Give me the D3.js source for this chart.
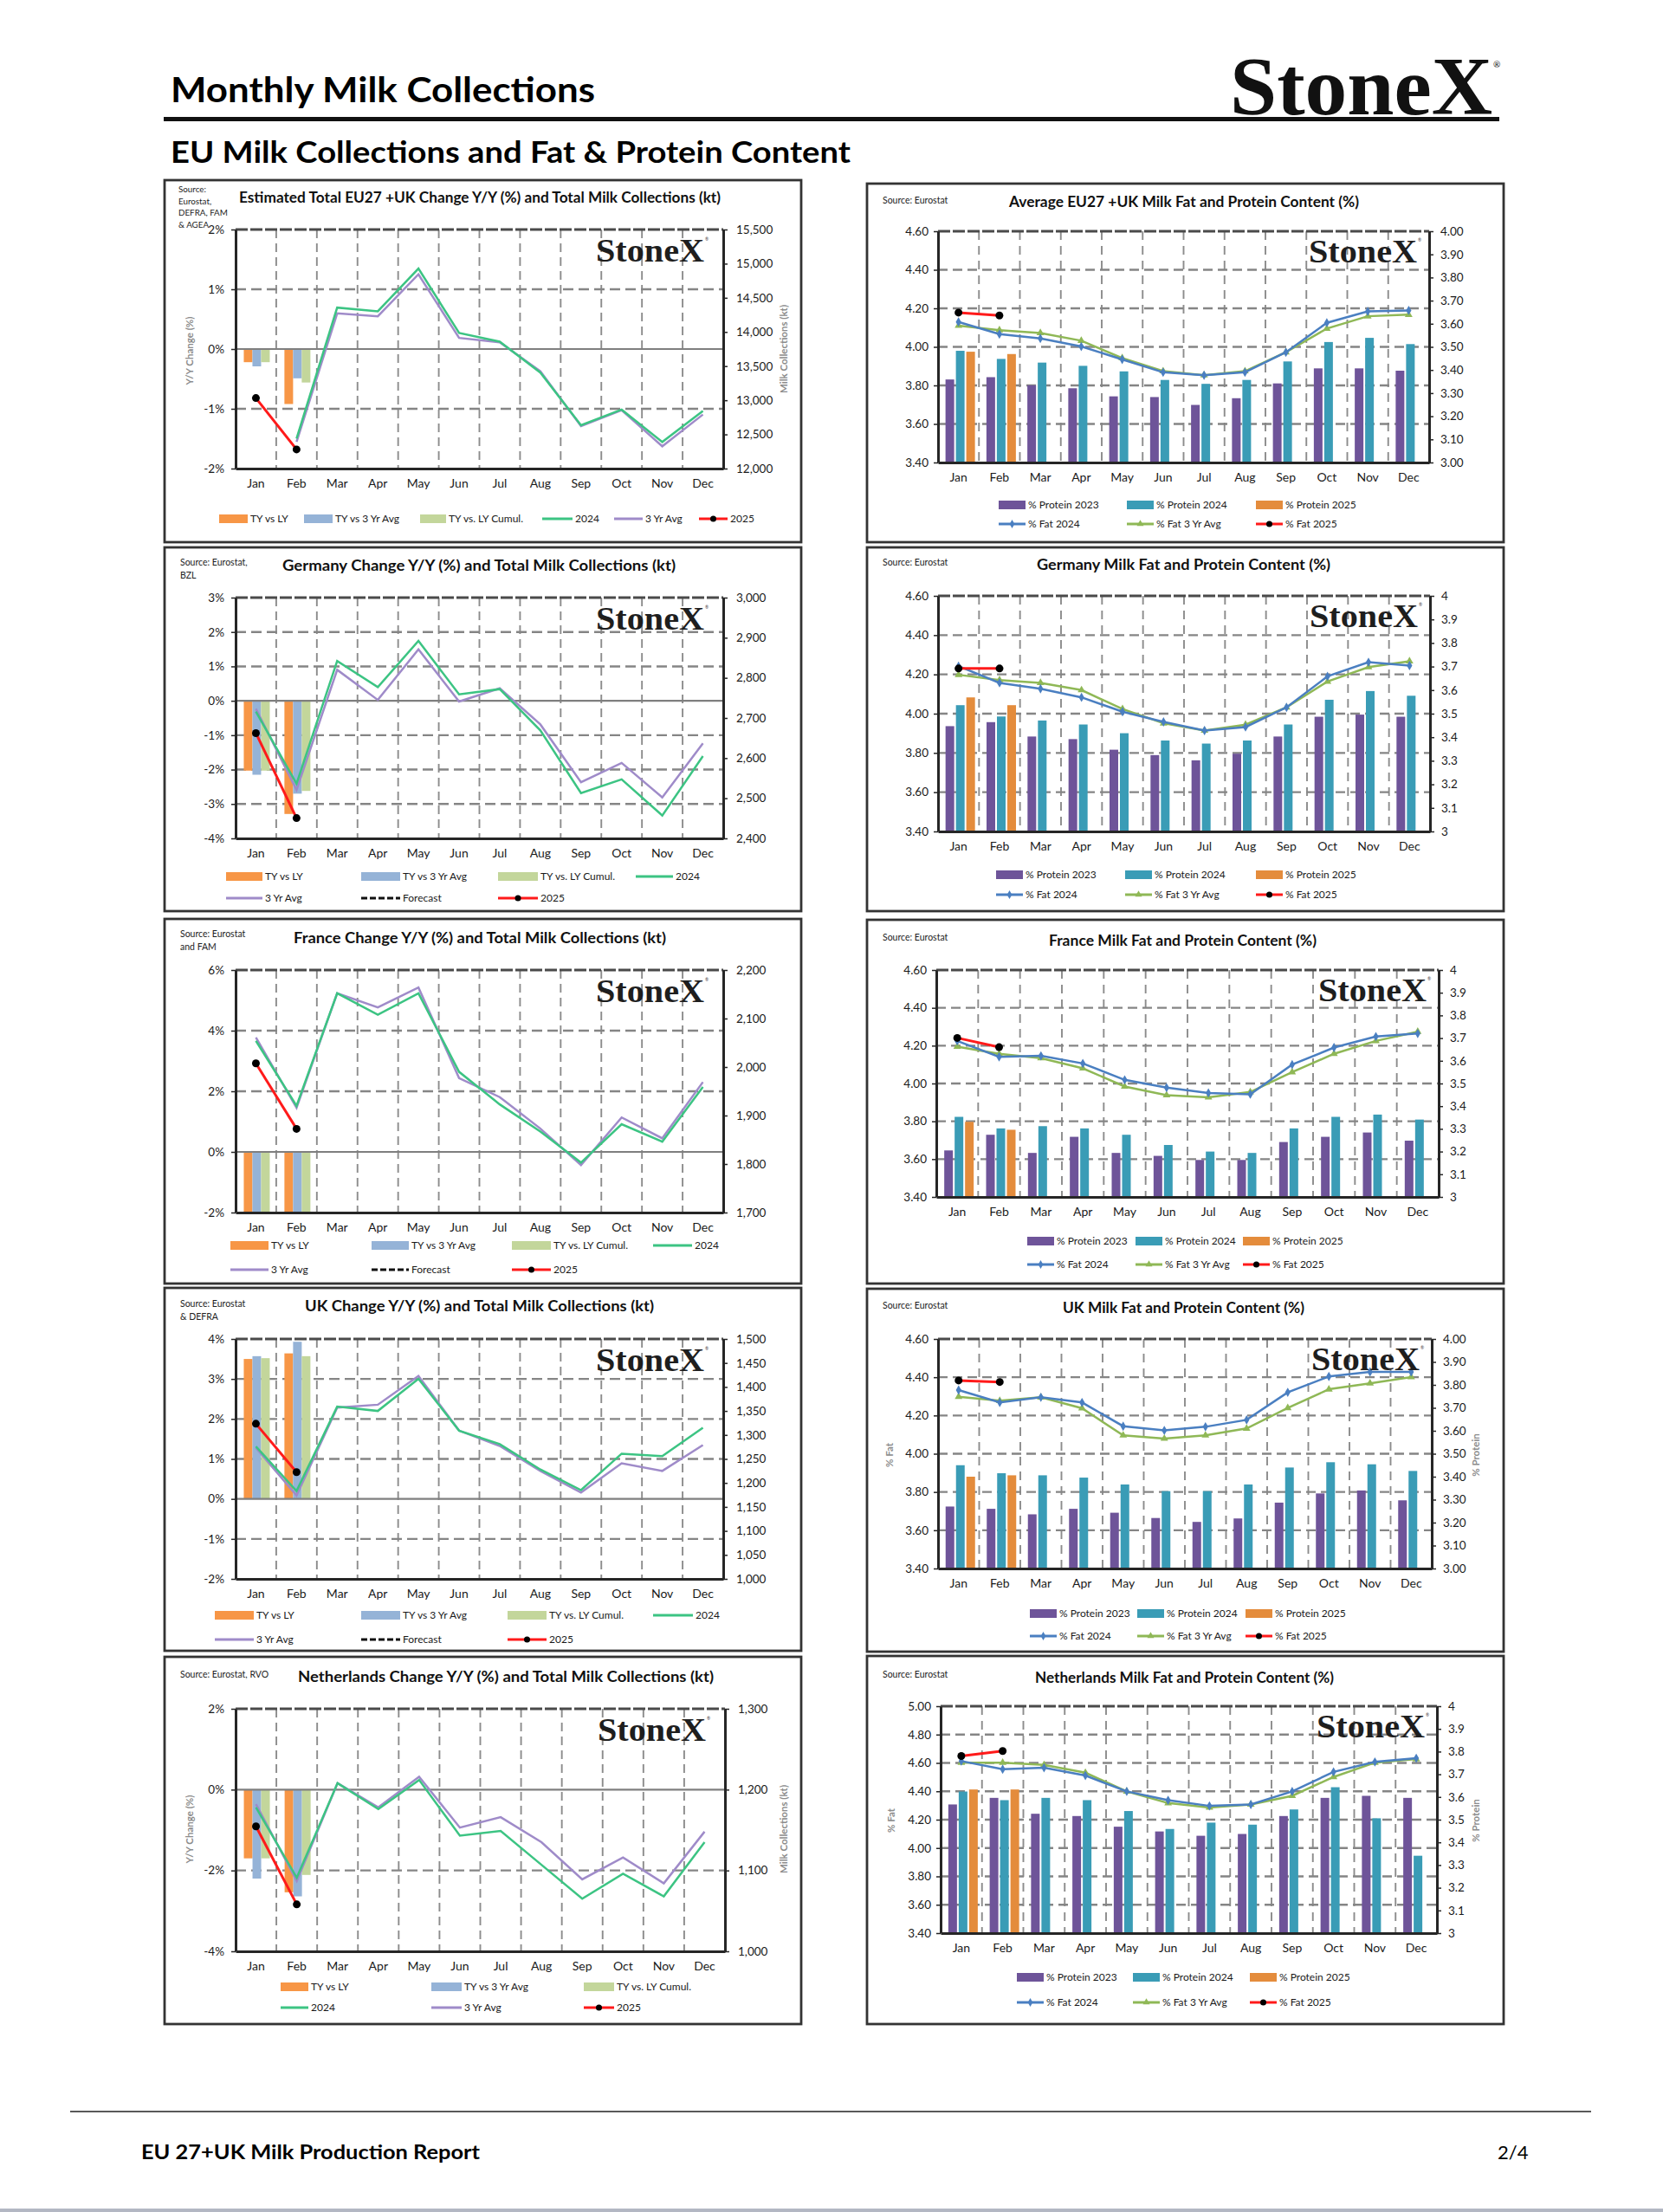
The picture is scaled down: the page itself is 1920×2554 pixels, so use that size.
<!DOCTYPE html>
<html>
<head>
<meta charset="utf-8">
<script src="https://cdn.jsdelivr.net/npm/d3@7"></script>
<style>
  body { margin: 0; background: #fff; }
  text { font-family: Lato, "Open Sans", sans-serif; }
</style>
</head>
<body>
<svg id="page" width="1920" height="2554"></svg>
<script>
// Categories
var months = ["Jan", "Feb", "Mar", "Apr", "May", "Jun", "Jul", "Aug", "Sep", "Oct", "Nov", "Dec"];

// EU27 + UK change Y/Y (%) and collections (kt)
var euTyVsLy = [-0.22, -0.92];
var euTyVs3Yr = [-0.29, -0.49];
var euCumul = [-0.22, -0.56];
var eu2024 = [null, 12440, 14357, 14302, 14928, 13985, 13858, 13405, 12635, 12863, 12389, 12842];
var eu3Yr = [null, 12390, 14272, 14230, 14844, 13913, 13849, 13426, 12622, 12855, 12326, 12791];
var eu2025 = [-0.82, -1.68];

// Germany
var deTyVsLy = [-2.03, -3.29];
var deTyVs3Yr = [-2.15, -2.70];
var deCumul = [-2.03, -2.62];
var de2024 = [2716, 2536, 2842, 2777, 2892, 2759, 2772, 2669, 2513, 2547, 2457, 2605];
var de3Yr = [2723, 2521, 2820, 2745, 2871, 2741, 2774, 2684, 2540, 2588, 2502, 2637];
var de2025 = [-0.94, -3.41];

// France
var frTyVsLy = [-2, -2];
var frTyVs3Yr = [-2, -2];
var frCumul = [-2, -2];
var fr2024 = [2054, 1920, 2152, 2108, 2152, 1990, 1923, 1867, 1803, 1882, 1846, 1959];
var fr3Yr = [2061, 1916, 2152, 2123, 2164, 1977, 1938, 1873, 1798, 1896, 1853, 1969];
var fr2025 = [2.92, 0.76];

// UK
var ukTyVsLy = [3.50, 3.64];
var ukTyVs3Yr = [3.57, 3.93];
var ukCumul = [3.52, 3.57];
var uk2024 = [1276, 1183, 1359, 1350, 1417, 1309, 1281, 1228, 1185, 1261, 1256, 1315];
var uk3Yr = [1273, 1174, 1357, 1363, 1423, 1309, 1277, 1225, 1180, 1241, 1225, 1279];
var uk2025 = [1.88, 0.67];

// Netherlands
var nlTyVsLy = [-1.70, -2.54];
var nlTyVs3Yr = [-2.20, -2.64];
var nlCumul = [-1.70, -2.11];
var nl2024 = [1178, 1091, 1208, 1176, 1212, 1143, 1149, 1107, 1065, 1096, 1068, 1135];
var nl3Yr = [1182, 1087, 1208, 1178, 1216, 1153, 1166, 1135, 1089, 1116, 1084, 1148];
var nl2025 = [-0.91, -2.84];

// Fat and protein content (%)
var euProt2023 = [3.359, 3.369, 3.334, 3.321, 3.286, 3.283, 3.249, 3.278, 3.342, 3.407, 3.407, 3.397];
var euProt2024 = [3.483, 3.448, 3.432, 3.418, 3.394, 3.357, 3.340, 3.357, 3.437, 3.521, 3.539, 3.512];
var euProt2025 = [3.479, 3.469];
var euFat2024 = [4.129, 4.066, 4.044, 4.002, 3.935, 3.868, 3.853, 3.868, 3.972, 4.125, 4.184, 4.189];
var euFat3Yr = [4.110, 4.087, 4.072, 4.032, 3.942, 3.874, 3.853, 3.874, 3.972, 4.095, 4.159, 4.167];
var euFat2025 = [4.178, 4.163];

var deProt2023 = [3.447, 3.464, 3.403, 3.392, 3.347, 3.324, 3.302, 3.330, 3.403, 3.487, 3.496, 3.487];
var deProt2024 = [3.536, 3.488, 3.471, 3.454, 3.417, 3.386, 3.373, 3.386, 3.454, 3.559, 3.596, 3.576];
var deProt2025 = [3.569, 3.536];
var deFat2024 = [4.242, 4.157, 4.127, 4.083, 4.010, 3.958, 3.914, 3.932, 4.032, 4.190, 4.262, 4.245];
var deFat3Yr = [4.198, 4.171, 4.157, 4.120, 4.024, 3.951, 3.914, 3.944, 4.032, 4.164, 4.237, 4.267];
var deFat2025 = [4.230, 4.230];

var frProt2023 = [3.205, 3.274, 3.194, 3.265, 3.194, 3.181, 3.163, 3.163, 3.242, 3.265, 3.284, 3.248];
var frProt2024 = [3.353, 3.302, 3.312, 3.302, 3.274, 3.229, 3.200, 3.194, 3.302, 3.353, 3.363, 3.341];
var frProt2025 = [3.331, 3.296];
var frFat2024 = [4.225, 4.141, 4.146, 4.106, 4.019, 3.978, 3.950, 3.943, 4.100, 4.190, 4.248, 4.264];
var frFat3Yr = [4.195, 4.157, 4.134, 4.080, 3.984, 3.938, 3.927, 3.955, 4.060, 4.157, 4.225, 4.274];
var frFat2025 = [4.241, 4.192];

var ukProt2023 = [3.270, 3.260, 3.236, 3.260, 3.243, 3.220, 3.203, 3.218, 3.287, 3.327, 3.340, 3.297];
var ukProt2024 = [3.450, 3.415, 3.406, 3.396, 3.366, 3.337, 3.337, 3.366, 3.440, 3.463, 3.454, 3.425];
var ukProt2025 = [3.400, 3.406];
var ukFat2024 = [4.333, 4.268, 4.295, 4.268, 4.144, 4.122, 4.141, 4.177, 4.321, 4.404, 4.428, 4.428];
var ukFat3Yr = [4.298, 4.277, 4.295, 4.238, 4.096, 4.079, 4.096, 4.132, 4.239, 4.337, 4.368, 4.401];
var ukFat2025 = [4.383, 4.375];

var nlProt2023 = [3.567, 3.596, 3.526, 3.516, 3.469, 3.448, 3.429, 3.437, 3.516, 3.596, 3.605, 3.596];
var nlProt2024 = [3.624, 3.586, 3.596, 3.586, 3.538, 3.459, 3.487, 3.478, 3.545, 3.643, 3.506, 3.341];
var nlProt2025 = [3.633, 3.633];
var nlFat2024 = [4.613, 4.556, 4.566, 4.511, 4.399, 4.337, 4.297, 4.307, 4.399, 4.537, 4.607, 4.633];
var nlFat3Yr = [4.602, 4.602, 4.586, 4.531, 4.399, 4.317, 4.286, 4.307, 4.368, 4.501, 4.602, 4.627];
var nlFat2025 = [4.649, 4.684];

// Colours
var cOrange = "#f79646", cBlue = "#95b3d7", cGreen = "#c3d69b";
var cLine24 = "#3cc483", cLine3Yr = "#9f8bc9", cRed = "#ff1a1a";
var cProt23 = "#6e5499", cProt24 = "#3a9cb6", cProt25 = "#e48c3c";
var cFat24 = "#4a7fc1", cFat3Yr = "#8fb856";

var svg = d3.select("#page");

// ---------- page header / footer ----------
svg.append("text").attr("x", 197).attr("y", 118)
  .attr("textLength", 490).attr("lengthAdjust", "spacingAndGlyphs")
  .style("font-size", "40px").style("font-weight", "bold").attr("fill", "#000")
  .text("Monthly Milk Collections");
svg.append("rect").attr("x", 189).attr("y", 135).attr("width", 1542).attr("height", 5).attr("fill", "#111");
svg.append("text").attr("x", 197).attr("y", 188)
  .attr("textLength", 785).attr("lengthAdjust", "spacingAndGlyphs")
  .style("font-size", "34px").style("font-weight", "bold").attr("fill", "#000")
  .text("EU Milk Collections and Fat & Protein Content");
svg.append("text").attr("x", 1420).attr("y", 132)
  .attr("textLength", 303).attr("lengthAdjust", "spacingAndGlyphs")
  .style("font-family", "'Liberation Serif', 'DejaVu Serif', serif").style("font-size", "96px")
  .style("font-weight", "bold").attr("fill", "#111").text("StoneX");
svg.append("text").attr("x", 1724).attr("y", 78).style("font-size", "10px").attr("fill", "#111").text("®");

svg.append("line").attr("x1", 81).attr("x2", 1837).attr("y1", 2438).attr("y2", 2438)
  .attr("stroke", "#222").attr("stroke-width", 1.5);
svg.append("text").attr("x", 163).attr("y", 2493)
  .attr("textLength", 391).attr("lengthAdjust", "spacingAndGlyphs")
  .style("font-size", "22px").style("font-weight", "bold").attr("fill", "#000")
  .text("EU 27+UK Milk Production Report");
svg.append("text").attr("x", 1729).attr("y", 2493)
  .style("font-size", "22px").attr("fill", "#000").text("2/4");
svg.append("rect").attr("x", 0).attr("y", 2550).attr("width", 1920).attr("height", 4).attr("fill", "#b3b7c3");

// ---------- helpers ----------
function styleAxis(sel, size) {
  sel.select(".domain").attr("stroke", "#262626").attr("stroke-width", 3);
  sel.selectAll(".tick line").attr("stroke", "#262626").attr("stroke-width", 1.5);
  sel.selectAll(".tick text").attr("fill", "#1a1a1a")
    .style("font-size", size + "px").style("font-family", "Lato, sans-serif");
}

function drawLegend(g, items, fontSize) {
  items.forEach(function(it) {
    var t = it[0], col = it[1], x0 = it[2], x1 = it[3], yy = it[4], label = it[5];
    if (t == "bar") {
      g.append("rect").attr("x", x0).attr("y", yy - 5).attr("width", x1 - x0).attr("height", 10).attr("fill", col);
    } else {
      g.append("line").attr("x1", x0).attr("x2", x1).attr("y1", yy).attr("y2", yy)
        .attr("stroke", t == "dash" ? "#111" : col).attr("stroke-width", 3)
        .attr("stroke-dasharray", t == "dash" ? "7,3" : null);
      var cx = (x0 + x1) / 2;
      if (t == "dot") g.append("circle").attr("cx", cx).attr("cy", yy).attr("r", 3.5).attr("fill", "#000");
      if (t == "dia") g.append("path").attr("transform", "translate(" + cx + "," + yy + ")")
        .attr("d", d3.symbol().type(d3.symbolDiamond).size(28)).attr("fill", col);
      if (t == "tri") g.append("path").attr("transform", "translate(" + cx + "," + yy + ")")
        .attr("d", d3.symbol().type(d3.symbolTriangle).size(28)).attr("fill", col);
    }
    g.append("text").attr("x", x1 + 3).attr("y", yy + 4).attr("fill", "#1a1a1a")
      .style("font-size", fontSize + "px").text(label);
  });
}

function drawFrame(g, c) {
  g.append("rect").attr("x", c.box[0]).attr("y", c.box[1])
    .attr("width", c.box[2] - c.box[0]).attr("height", c.box[3] - c.box[1])
    .attr("fill", "#fff").attr("stroke", "#333").attr("stroke-width", 2.8);
}

function drawGrid(g, c, x, y, hDash, vDash) {
  // vertical dashed lines between months
  g.selectAll(null).data(months.slice(1)).enter().append("line")
    .attr("x1", d => x(d)).attr("x2", d => x(d))
    .attr("y1", c.plot.t).attr("y2", c.plot.b)
    .attr("stroke", "#8c8c8c").attr("stroke-width", 1.9).attr("stroke-dasharray", vDash);
  // horizontal dashed lines
  g.selectAll(null).data(c.grid).enter().append("line")
    .attr("x1", c.plot.l).attr("x2", c.plot.r)
    .attr("y1", d => y(d)).attr("y2", d => y(d))
    .attr("stroke", "#858585").attr("stroke-width", 2.4).attr("stroke-dasharray", hDash);
  // top border drawn as a dark dashed line
  g.append("line").attr("x1", c.plot.l).attr("x2", c.plot.r)
    .attr("y1", c.plot.t).attr("y2", c.plot.t)
    .attr("stroke", "#4a4a4a").attr("stroke-width", 3).attr("stroke-dasharray", "14,3");
}

function drawLogo(g, xr, yb) {
  g.append("text").attr("x", xr).attr("y", yb).attr("text-anchor", "end")
    .attr("textLength", 125).attr("lengthAdjust", "spacingAndGlyphs")
    .style("font-family", "'Liberation Serif', 'DejaVu Serif', serif").style("font-size", "38px")
    .style("font-weight", "bold").attr("fill", "#1e1e1e").text("StoneX");
  g.append("text").attr("x", xr + 1).attr("y", yb - 24).style("font-size", "5px").attr("fill", "#333").text("®");
}

function drawTitles(g, c) {
  g.append("text").attr("x", c.titleX).attr("y", c.titleY)
    .attr("textLength", c.titleW).attr("lengthAdjust", "spacingAndGlyphs")
    .style("font-size", "16.5px").style("font-weight", "bold").attr("fill", "#111")
    .text(c.title);
  c.source.forEach(function(s, i) {
    g.append("text").attr("x", c.sourceX).attr("y", c.sourceY + i * c.sourceStep)
      .style("font-size", (c.sourceSize || 10.5) + "px").attr("fill", "#222").text(s);
  });
  (c.axisTitles || []).forEach(function(a) {
    g.append("text").attr("transform", "translate(" + a[0] + "," + a[1] + ") rotate(-90)")
      .attr("text-anchor", "middle").style("font-size", "11.5px").style("font-weight", "bold")
      .attr("fill", "#8c8c8c").text(a[2]);
  });
}

// ---------- Y/Y change + collections chart ----------
function drawChange(c) {
  var g = svg.append("g");
  drawFrame(g, c);

  var x = d3.scaleBand().domain(months).range([c.plot.l, c.plot.r]);
  var y = d3.scaleLinear().domain(c.yDomain).range([c.plot.b, c.plot.t]);
  var y2 = d3.scaleLinear().domain(c.y2Domain).range([c.plot.b, c.plot.t]);

  drawGrid(g, c, x, y, "12,6", "10,6");

  // bars
  var barSeries = [[c.tyLy, cOrange, -14], [c.ty3, cBlue, -4], [c.cumul, cGreen, 6]];
  barSeries.forEach(function(s) {
    g.selectAll(null).data(s[0]).enter().append("rect")
      .attr("x", (d, i) => x(months[i]) + x.bandwidth() / 2 + s[2])
      .attr("width", 10)
      .attr("y", d => y(Math.max(0, d)))
      .attr("height", d => Math.abs(y(d) - y(0)))
      .attr("fill", s[1]);
  });

  // zero line
  g.append("line").attr("x1", c.plot.l).attr("x2", c.plot.r)
    .attr("y1", y(0)).attr("y2", y(0)).attr("stroke", "#7f7f7f").attr("stroke-width", 2.2);

  // collections lines (right axis)
  var line2 = d3.line()
    .defined(d => d != null)
    .x((d, i) => x(months[i]) + x.bandwidth() / 2)
    .y(d => y2(d));
  g.append("path").datum(c.l3Yr).attr("d", line2).attr("fill", "none")
    .attr("stroke", cLine3Yr).attr("stroke-width", 2.5);
  g.append("path").datum(c.l2024).attr("d", line2).attr("fill", "none")
    .attr("stroke", cLine24).attr("stroke-width", 2.5);

  // axes
  var leftAxis = d3.axisLeft(y).tickValues(c.yTicks).tickFormat(d => d + "%").tickSize(5).tickSizeOuter(0).tickPadding(8);
  var rightAxis = d3.axisRight(y2).tickValues(c.y2Ticks).tickFormat(d3.format(",")).tickSize(5).tickSizeOuter(0).tickPadding(10);
  var bottomAxis = d3.axisBottom(x).tickSize(0).tickPadding(12);
  styleAxis(g.append("g").attr("transform", `translate(${c.plot.l},0)`).call(leftAxis), 13.5);
  styleAxis(g.append("g").attr("transform", `translate(${c.plot.r},0)`).call(rightAxis), 13.5);
  styleAxis(g.append("g").attr("transform", `translate(0,${c.plot.b})`).call(bottomAxis), 14);

  // 2025 line (left axis)
  var line1 = d3.line()
    .x((d, i) => x(months[i]) + x.bandwidth() / 2)
    .y(d => y(d));
  g.append("path").datum(c.l2025).attr("d", line1).attr("fill", "none")
    .attr("stroke", cRed).attr("stroke-width", 3);
  g.selectAll(null).data(c.l2025).enter().append("circle")
    .attr("cx", (d, i) => x(months[i]) + x.bandwidth() / 2)
    .attr("cy", d => y(d)).attr("r", 4.5).attr("fill", "#000");

  drawLogo(g, c.plot.r - 22, c.plot.t + 37);
  drawTitles(g, c);
  drawLegend(g, c.legend, 12);
}

// ---------- fat & protein chart ----------
function drawFat(c) {
  var g = svg.append("g");
  drawFrame(g, c);

  var x = d3.scaleBand().domain(months).range([c.plot.l, c.plot.r]);
  var y = d3.scaleLinear().domain(c.yDomain).range([c.plot.b, c.plot.t]);
  var y2 = d3.scaleLinear().domain([3, 4]).range([c.plot.b, c.plot.t]);

  drawGrid(g, c, x, y, "11,6", "10,7");

  // protein bars (right axis)
  var barSeries = [[c.p23, cProt23, -15], [c.p24, cProt24, -3], [c.p25, cProt25, 9]];
  barSeries.forEach(function(s) {
    g.selectAll(null).data(s[0]).enter().append("rect")
      .attr("x", (d, i) => x(months[i]) + x.bandwidth() / 2 + s[2])
      .attr("width", 10)
      .attr("y", d => y2(d))
      .attr("height", d => c.plot.b - y2(d))
      .attr("fill", s[1]);
  });

  // axes
  var leftAxis = d3.axisLeft(y).tickValues(c.yTicks).tickFormat(d3.format(".2f")).tickSize(5).tickSizeOuter(0).tickPadding(6);
  var rightAxis = d3.axisRight(y2).tickValues(d3.range(0, 11).map(i => 3 + i / 10))
    .tickFormat(c.y2Fmt).tickSize(5).tickSizeOuter(0).tickPadding(8);
  var bottomAxis = d3.axisBottom(x).tickSize(0).tickPadding(12);
  styleAxis(g.append("g").attr("transform", `translate(${c.plot.l},0)`).call(leftAxis), 13.5);
  styleAxis(g.append("g").attr("transform", `translate(${c.plot.r},0)`).call(rightAxis), 13.5);
  styleAxis(g.append("g").attr("transform", `translate(0,${c.plot.b})`).call(bottomAxis), 14);

  // fat lines (left axis)
  var line = d3.line()
    .x((d, i) => x(months[i]) + x.bandwidth() / 2)
    .y(d => y(d));
  var lineSeries = [[c.f3Yr, cFat3Yr, d3.symbolTriangle], [c.f24, cFat24, d3.symbolDiamond]];
  lineSeries.forEach(function(s) {
    g.append("path").datum(s[0]).attr("d", line).attr("fill", "none")
      .attr("stroke", s[1]).attr("stroke-width", 2.5);
    g.selectAll(null).data(s[0]).enter().append("path")
      .attr("transform", (d, i) => `translate(${x(months[i]) + x.bandwidth() / 2},${y(d)})`)
      .attr("d", d3.symbol().type(s[2]).size(34)).attr("fill", s[1]);
  });
  g.append("path").datum(c.f25).attr("d", line).attr("fill", "none")
    .attr("stroke", cRed).attr("stroke-width", 3);
  g.selectAll(null).data(c.f25).enter().append("circle")
    .attr("cx", (d, i) => x(months[i]) + x.bandwidth() / 2)
    .attr("cy", d => y(d)).attr("r", 4.5).attr("fill", "#000");

  drawLogo(g, c.plot.r - 14, c.plot.t + 36);
  drawTitles(g, c);
  drawLegend(g, c.legend, 12);
}

// legend builders for the two chart families
function changeLegend4(xs, rows) {
  return [
    ["bar", cOrange, xs[0][0], xs[0][1], rows[0], "TY vs LY"],
    ["bar", cBlue, xs[1][0], xs[1][1], rows[0], "TY vs 3 Yr Avg"],
    ["bar", cGreen, xs[2][0], xs[2][1], rows[0], "TY vs. LY Cumul."],
    ["line", cLine24, xs[3][0], xs[3][1], rows[0], "2024"],
    ["line", cLine3Yr, xs[0][0], xs[0][1], rows[1], "3 Yr Avg"],
    ["dash", "#111", xs[1][0], xs[1][1], rows[1], "Forecast"],
    ["dot", cRed, xs[2][0], xs[2][1], rows[1], "2025"]
  ];
}
function fatLegend(xs, rows) {
  return [
    ["bar", cProt23, xs[0], xs[0] + 31, rows[0], "% Protein 2023"],
    ["bar", cProt24, xs[1], xs[1] + 31, rows[0], "% Protein 2024"],
    ["bar", cProt25, xs[2], xs[2] + 31, rows[0], "% Protein 2025"],
    ["dia", cFat24, xs[0], xs[0] + 31, rows[1], "% Fat 2024"],
    ["tri", cFat3Yr, xs[1], xs[1] + 31, rows[1], "% Fat 3 Yr Avg"],
    ["dot", cRed, xs[2], xs[2] + 31, rows[1], "% Fat 2025"]
  ];
}
var fmt2 = d3.format(".2f");
var fmt1 = d => String(+d.toFixed(1));

// ---------- left column ----------
drawChange({
  box: [190, 208, 925, 626], plot: { l: 272, r: 835, t: 265, b: 541 },
  yDomain: [-2, 2], yTicks: [-2, -1, 0, 1, 2], grid: [-1, 1],
  y2Domain: [12000, 15500], y2Ticks: d3.range(12000, 15501, 500),
  tyLy: euTyVsLy, ty3: euTyVs3Yr, cumul: euCumul, l2024: eu2024, l3Yr: eu3Yr, l2025: eu2025,
  title: "Estimated Total EU27 +UK Change Y/Y (%) and Total Milk Collections (kt)",
  titleX: 276, titleY: 234, titleW: 556,
  source: ["Source:", "Eurostat,", "DEFRA, FAM", "& AGEA"], sourceX: 206, sourceY: 222, sourceStep: 13.5, sourceSize: 9.8,
  axisTitles: [[223, 405, "Y/Y Change (%)"], [909, 403, "Milk Collections (kt)"]],
  legend: [
    ["bar", cOrange, 253, 286, 599, "TY vs LY"],
    ["bar", cBlue, 351, 384, 599, "TY vs 3 Yr Avg"],
    ["bar", cGreen, 485, 515, 599, "TY vs. LY Cumul."],
    ["line", cLine24, 626, 661, 599, "2024"],
    ["line", cLine3Yr, 709, 742, 599, "3 Yr Avg"],
    ["dot", cRed, 807, 840, 599, "2025"]
  ]
});

drawChange({
  box: [190, 632, 925, 1052], plot: { l: 272, r: 835, t: 690, b: 968 },
  yDomain: [-4, 3], yTicks: [-4, -3, -2, -1, 0, 1, 2, 3], grid: [-3, -2, -1, 1, 2],
  y2Domain: [2400, 3000], y2Ticks: d3.range(2400, 3001, 100),
  tyLy: deTyVsLy, ty3: deTyVs3Yr, cumul: deCumul, l2024: de2024, l3Yr: de3Yr, l2025: de2025,
  title: "Germany Change Y/Y (%) and Total Milk Collections (kt)",
  titleX: 326, titleY: 659, titleW: 454,
  source: ["Source:  Eurostat,", "BZL"], sourceX: 208, sourceY: 653, sourceStep: 15,
  legend: changeLegend4([[261, 303], [417, 462], [575, 621], [734, 777]], [1012, 1037])
});

drawChange({
  box: [190, 1061, 925, 1482], plot: { l: 272, r: 835, t: 1120, b: 1400 },
  yDomain: [-2, 6], yTicks: [-2, 0, 2, 4, 6], grid: [2, 4],
  y2Domain: [1700, 2200], y2Ticks: d3.range(1700, 2201, 100),
  tyLy: frTyVsLy, ty3: frTyVs3Yr, cumul: frCumul, l2024: fr2024, l3Yr: fr3Yr, l2025: fr2025,
  title: "France Change Y/Y (%) and Total Milk Collections (kt)",
  titleX: 339, titleY: 1089, titleW: 430,
  source: ["Source:  Eurostat", "and FAM"], sourceX: 208, sourceY: 1082, sourceStep: 15,
  legend: changeLegend4([[266, 310], [429, 472], [591, 636], [754, 799]], [1438, 1466])
});

drawChange({
  box: [190, 1487, 925, 1906], plot: { l: 272, r: 835, t: 1546, b: 1823 },
  yDomain: [-2, 4], yTicks: [-2, -1, 0, 1, 2, 3, 4], grid: [-1, 1, 2, 3],
  y2Domain: [1000, 1500], y2Ticks: d3.range(1000, 1501, 50),
  tyLy: ukTyVsLy, ty3: ukTyVs3Yr, cumul: ukCumul, l2024: uk2024, l3Yr: uk3Yr, l2025: uk2025,
  title: "UK Change Y/Y (%) and Total Milk Collections (kt)",
  titleX: 352, titleY: 1514, titleW: 403,
  source: ["Source:  Eurostat", "& DEFRA"], sourceX: 208, sourceY: 1509, sourceStep: 15,
  legend: changeLegend4([[248, 293], [417, 462], [586, 631], [754, 800]], [1865, 1893])
});

drawChange({
  box: [190, 1913, 925, 2337], plot: { l: 272, r: 837, t: 1973, b: 2253 },
  yDomain: [-4, 2], yTicks: [-4, -2, 0, 2], grid: [-2],
  y2Domain: [1000, 1300], y2Ticks: d3.range(1000, 1301, 100),
  tyLy: nlTyVsLy, ty3: nlTyVs3Yr, cumul: nlCumul, l2024: nl2024, l3Yr: nl3Yr, l2025: nl2025,
  title: "Netherlands Change Y/Y (%) and Total Milk Collections (kt)",
  titleX: 344, titleY: 1942, titleW: 480,
  source: ["Source:  Eurostat, RVO"], sourceX: 208, sourceY: 1937, sourceStep: 15,
  axisTitles: [[223, 2112, "Y/Y Change (%)"], [909, 2112, "Milk Collections (kt)"]],
  legend: [
    ["bar", cOrange, 324, 356, 2294, "TY vs LY"],
    ["bar", cBlue, 498, 533, 2294, "TY vs 3 Yr Avg"],
    ["bar", cGreen, 674, 709, 2294, "TY vs. LY Cumul."],
    ["line", cLine24, 324, 356, 2318, "2024"],
    ["line", cLine3Yr, 498, 533, 2318, "3 Yr Avg"],
    ["dot", cRed, 674, 709, 2318, "2025"]
  ]
});

// ---------- right column ----------
var fatTicks = [3.4, 3.6, 3.8, 4.0, 4.2, 4.4, 4.6];

drawFat({
  box: [1001, 212, 1736, 626], plot: { l: 1083, r: 1650, t: 267, b: 534 },
  yDomain: [3.4, 4.6], yTicks: fatTicks, grid: [3.6, 3.8, 4.0, 4.2, 4.4], y2Fmt: fmt2,
  p23: euProt2023, p24: euProt2024, p25: euProt2025, f24: euFat2024, f3Yr: euFat3Yr, f25: euFat2025,
  title: "Average EU27 +UK Milk Fat and Protein Content (%)",
  titleX: 1165, titleY: 239, titleW: 404,
  source: ["Source:  Eurostat"], sourceX: 1019, sourceY: 235, sourceStep: 15,
  legend: fatLegend([1153, 1301, 1450], [583, 605])
});

drawFat({
  box: [1001, 632, 1736, 1052], plot: { l: 1083, r: 1651, t: 688, b: 960 },
  yDomain: [3.4, 4.6], yTicks: fatTicks, grid: [3.6, 3.8, 4.0, 4.2, 4.4], y2Fmt: fmt1,
  p23: deProt2023, p24: deProt2024, p25: deProt2025, f24: deFat2024, f3Yr: deFat3Yr, f25: deFat2025,
  title: "Germany Milk Fat and Protein Content (%)",
  titleX: 1197, titleY: 658, titleW: 339,
  source: ["Source:  Eurostat"], sourceX: 1019, sourceY: 653, sourceStep: 15,
  legend: fatLegend([1150, 1299, 1450], [1010, 1033])
});

drawFat({
  box: [1001, 1062, 1736, 1482], plot: { l: 1081, r: 1661, t: 1120, b: 1382 },
  yDomain: [3.4, 4.6], yTicks: fatTicks, grid: [3.6, 3.8, 4.0, 4.2, 4.4], y2Fmt: fmt1,
  p23: frProt2023, p24: frProt2024, p25: frProt2025, f24: frFat2024, f3Yr: frFat3Yr, f25: frFat2025,
  title: "France Milk Fat and Protein Content (%)",
  titleX: 1211, titleY: 1092, titleW: 309,
  source: ["Source:  Eurostat"], sourceX: 1019, sourceY: 1086, sourceStep: 15,
  legend: fatLegend([1186, 1311, 1435], [1433, 1460])
});

drawFat({
  box: [1001, 1488, 1736, 1907], plot: { l: 1083, r: 1653, t: 1546, b: 1811 },
  yDomain: [3.4, 4.6], yTicks: fatTicks, grid: [3.6, 3.8, 4.0, 4.2, 4.4], y2Fmt: fmt2,
  p23: ukProt2023, p24: ukProt2024, p25: ukProt2025, f24: ukFat2024, f3Yr: ukFat3Yr, f25: ukFat2025,
  title: "UK Milk Fat and Protein Content (%)",
  titleX: 1227, titleY: 1516, titleW: 279,
  source: ["Source:  Eurostat"], sourceX: 1019, sourceY: 1511, sourceStep: 15,
  axisTitles: [[1031, 1680, "% Fat"], [1708, 1680, "% Protein"]],
  legend: fatLegend([1189, 1313, 1438], [1863, 1889])
});

drawFat({
  box: [1001, 1912, 1736, 2337], plot: { l: 1086, r: 1659, t: 1970, b: 2232 },
  yDomain: [3.4, 5.0], yTicks: [3.4, 3.6, 3.8, 4.0, 4.2, 4.4, 4.6, 4.8, 5.0],
  grid: [3.6, 3.8, 4.0, 4.2, 4.4, 4.6, 4.8], y2Fmt: fmt1,
  p23: nlProt2023, p24: nlProt2024, p25: nlProt2025, f24: nlFat2024, f3Yr: nlFat3Yr, f25: nlFat2025,
  title: "Netherlands Milk Fat and Protein Content (%)",
  titleX: 1195, titleY: 1943, titleW: 345,
  source: ["Source:  Eurostat"], sourceX: 1019, sourceY: 1937, sourceStep: 15,
  axisTitles: [[1033, 2102, "% Fat"], [1708, 2102, "% Protein"]],
  legend: fatLegend([1174, 1308, 1443], [2283, 2312])
});
</script>
</body>
</html>
